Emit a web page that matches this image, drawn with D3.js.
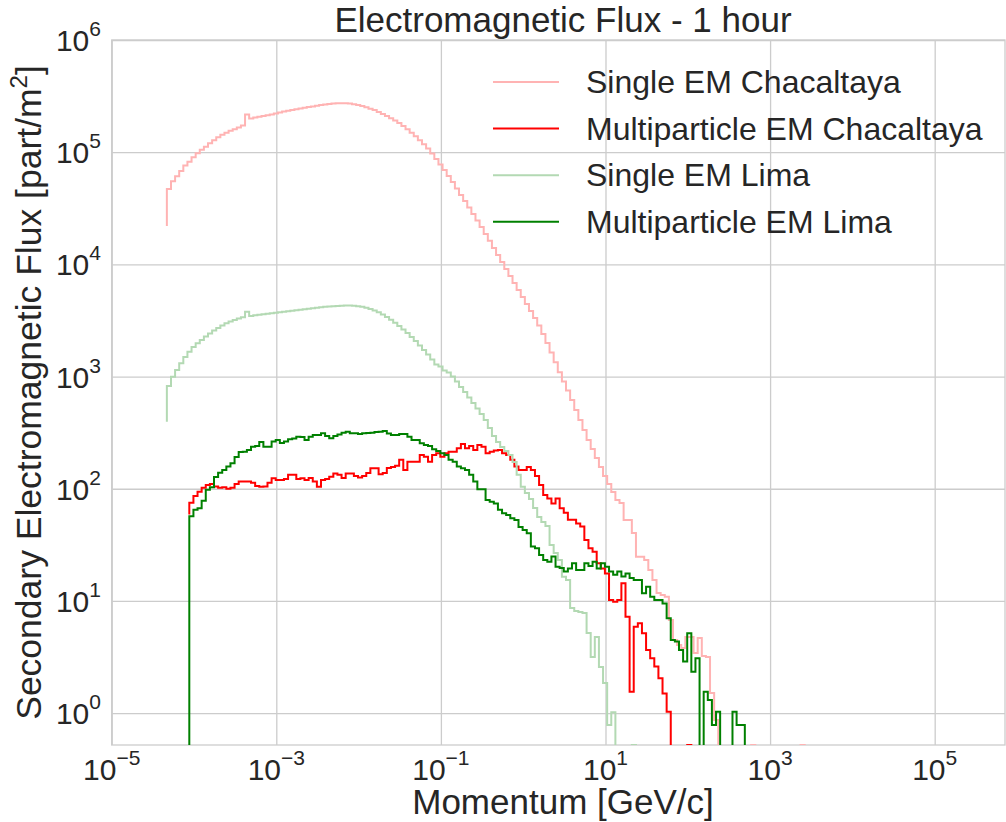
<!DOCTYPE html>
<html>
<head>
<meta charset="utf-8">
<script src="https://cdnjs.cloudflare.com/ajax/libs/d3/7.8.5/d3.min.js"></script>
<style>
    body { margin: 0; background: #fff; }
    svg { font-family: "Liberation Sans", Arial, sans-serif; }
</style>
</head>
<body>
<svg id="chart" width="1006" height="822"></svg>
<script>

// histogram bins: 20 log bins per decade, lower edge of first bin
var binsPerDecade = 20;
var singleBinLo = 4.68e-5;
var multiBinLo = 8.77e-5;

// [part/m2] per bin. first value = start of the step line
var chacSingleStart = 22000;
var chacSingle = [47000,55000,61000,68000,76000,82000,90000,98000,105000,112000,
    120000,128000,136000,143000,149000,155000,160000,166000,173000,217000,
    200000,204000,207000,210000,213000,217000,221000,226000,230000,234000,
    238000,242000,245000,249000,253000,256000,260000,263000,266000,269000,
    271000,273000,273000,273000,271000,268000,263000,258000,251000,244000,
    238000,228000,219000,210000,201000,192000,182000,171000,160000,149000,
    139000,128000,118000,108000,97400,87000,77700,69400,61400,54300,
    47500,41500,36700,32200,28100,24600,21500,18700,16200,14000,
    12100,10500,9100,7880,6830,5910,5120,4440,3840,3330,
    2850,2400,1990,1640,1340,1090,904,752,619,504,
    410,334,272,226,188,156,130,110,93.6,79.5,
    74.7,52.7,52.7,40.4,24.8,24.8,23.2,18.9,15.4,11.8,
    11.3,10.9,6.77,4.49,4.05,3.81,4.78,4.78,3.44,4.68,
    3.23,3.17,1.51,0.87,0,0,0,0,0,0,
    0,0,0.52,0,0,0,0,0,0,0,
    0,0,0,0,0.52,0];

var chacMultiStart = 59;
var chacMulti = [75,86,94,102,108,110,105,102,103,100,
    102,110,116,116,116,113,106,104,105,113,
    124,120,120,122,133,133,122,124,120,125,
    116,104,120,122,128,137,133,125,137,137,
    130,126,130,138,152,152,135,138,153,156,
    160,181,147,174,174,174,200,193,174,200,
    207,193,207,214,214,230,251,230,241,222,
    246,237,207,214,219,222,207,200,181,158,
    147,147,156,147,130,108,88,82,74,82,
    67,61,53,53,49,46,35,29.5,27.5,21.7,
    19.5,17.6,10.2,9.86,10.2,14.4,7.24,1.55,5.9,6.33,
    5.15,3.66,3.08,2.6,2.05,1.5,1.03,0,0,0,
    0,0.52,0];

var limaSingleStart = 396;
var limaSingle = [825,998,1145,1313,1495,1667,1835,1981,2120,2277,
    2422,2576,2712,2854,2985,3098,3195,3295,3377,3788,
    3468,3518,3562,3598,3636,3673,3711,3750,3788,3827,
    3866,3907,3948,3988,4030,4071,4113,4147,4181,4216,
    4242,4267,4285,4294,4294,4276,4242,4190,4113,4004,
    3882,3742,3577,3398,3215,3023,2825,2629,2447,2254,
    2077,1893,1727,1574,1420,1282,1230,1133,1088,1002,
    904,808,729,651,582,520,464,410,348,296,
    261,236,217,200,173,133,104,91.7,81.1,67.4,
    56.1,50.6,46.6,31.6,26.8,23.2,16.4,15.4,8.66,8.14,
    7.98,7.82,5.19,3.17,4.78,2.58,1.86,0.785,1.02,0,
    0,0,0,0.52,0];

var limaMultiStart = 0;
var limaMulti = [57,65,67,78,98,103,127,139,147,158,
    169,192,213,214,222,237,241,261,237,237,
    264,272,256,264,276,281,291,290,272,291,
    302,302,312,295,282,295,305,316,323,312,
    312,308,312,314,316,321,323,328,311,302,
    302,308,308,291,272,272,254,246,241,225,
    217,207,200,181,174,158,152,147,133,116,
    99,99,79.5,76.7,74,65,60.5,58.4,54.6,52.7,
    45.7,42.9,40.1,30.5,29.5,25.7,23.2,22.4,24.9,20.2,
    19.7,18.3,19.5,21.7,18.9,18.9,21.7,20.5,22.4,19.5,
    21.7,20.2,18.3,17.1,18.3,16.5,17.6,16.0,15.4,15.4,
    11.7,13.4,10.9,10.2,10.2,9.5,7.0,4.49,4.34,3.66,
    2.88,5.15,2.34,3.08,0,1.55,1.31,0.785,1.03,0,
    0,0,1.03,0.785,0.785,0];

var seriesNames = ["Single EM Chacaltaya", "Multiparticle EM Chacaltaya", "Single EM Lima", "Multiparticle EM Lima"];
var seriesColors = ["#ffb3b3", "#ff0000", "#b3d9b3", "#008000"];

var xTickExp = [-5, -3, -1, 1, 3, 5];
var yTickExp = [0, 1, 2, 3, 4, 5, 6];
var xMin = 1e-5, xMax = 7.15e5;
var yMin = 0.52, yMax = 1e6;

// layout (plot box)
var boxL = 111.7, boxR = 1005, boxT = 40, boxB = 745;
var boxW = boxR - boxL, boxH = boxB - boxT;
var labelCx = 563;
var textCol = "#262626", gridCol = "#cccccc";

var svg = d3.select("#chart");

var x = d3.scaleLog().domain([xMin, xMax]).range([boxL, boxR]);
var y = d3.scaleLog().domain([yMin, yMax]).range([boxB, boxT]);

svg.append("defs").append("clipPath").attr("id", "plotclip")
    .append("rect").attr("x", boxL).attr("y", boxT).attr("width", boxW).attr("height", boxH);

// grid
var xTicks = xTickExp.map(function(e){ return Math.pow(10, e); });
var yTicks = yTickExp.map(function(e){ return Math.pow(10, e); });

var gx = svg.append("g").attr("transform", "translate(0," + boxB + ")")
    .call(d3.axisBottom(x).tickValues(xTicks).tickSize(-boxH).tickFormat(""));
var gy = svg.append("g").attr("transform", "translate(" + boxL + ",0)")
    .call(d3.axisLeft(y).tickValues(yTicks).tickSize(-boxW).tickFormat(""));

[gx, gy].forEach(function(g){
    g.select(".domain").remove();
    g.selectAll(".tick line").attr("stroke", gridCol).attr("stroke-width", 1.3);
});

svg.append("rect")
    .attr("x", boxL).attr("y", boxT).attr("width", boxW).attr("height", boxH)
    .attr("fill", "none").attr("stroke", gridCol).attr("stroke-width", 1.3);

// tick labels with superscripts
xTickExp.forEach(function(e){
    var t = svg.append("text")
        .attr("x", x(Math.pow(10, e))).attr("y", 780)
        .attr("text-anchor", "middle").attr("fill", textCol)
        .attr("font-size", 30);
    t.append("tspan").text("10");
    t.append("tspan").attr("dy", -15).attr("font-size", 21)
        .text(String(e).replace("-", "\u2212"));
});

yTickExp.forEach(function(e){
    var t = svg.append("text")
        .attr("x", 101).attr("y", y(Math.pow(10, e)) + 11)
        .attr("text-anchor", "end").attr("fill", textCol)
        .attr("font-size", 30);
    t.append("tspan").text("10");
    t.append("tspan").attr("dy", -15).attr("font-size", 21).text(String(e));
});

// histogram steps
function histPoints(lo, start, counts){
    var pts = [[lo, start]];
    counts.forEach(function(c, i){
        pts.push([lo * Math.pow(10, i / binsPerDecade), c]);
    });
    pts.push([lo * Math.pow(10, counts.length / binsPerDecade), 0]);
    return pts;
}

var line = d3.line()
    .x(function(d){ return x(d[0]); })
    .y(function(d){ return d[1] > 0 ? y(d[1]) : boxB + 40; })
    .curve(d3.curveStepAfter);

var series = [
    histPoints(singleBinLo, chacSingleStart, chacSingle),
    histPoints(multiBinLo, chacMultiStart, chacMulti),
    histPoints(singleBinLo, limaSingleStart, limaSingle),
    histPoints(multiBinLo, limaMultiStart, limaMulti)
];

var plot = svg.append("g").attr("clip-path", "url(#plotclip)");
series.forEach(function(pts, i){
    plot.append("path")
        .attr("d", line(pts))
        .attr("fill", "none")
        .attr("stroke", seriesColors[i])
        .attr("stroke-width", 2)
        .attr("stroke-linejoin", "miter");
});

// legend
seriesNames.forEach(function(name, i){
    var ly = 82 + i * 46.6;
    svg.append("line")
        .attr("x1", 493).attr("x2", 559).attr("y1", ly).attr("y2", ly)
        .attr("stroke", seriesColors[i]).attr("stroke-width", 2);
    svg.append("text")
        .attr("x", 586).attr("y", ly + 11)
        .attr("fill", textCol).attr("font-size", 32)
        .text(name);
});

// titles
svg.append("text")
    .attr("x", labelCx).attr("y", 32)
    .attr("text-anchor", "middle").attr("fill", textCol).attr("font-size", 35)
    .text("Electromagnetic Flux - 1 hour");

svg.append("text")
    .attr("x", labelCx).attr("y", 814)
    .attr("text-anchor", "middle").attr("fill", textCol).attr("font-size", 35)
    .text("Momentum [GeV/c]");

var yl = svg.append("text")
    .attr("transform", "translate(41," + (boxT + boxB) / 2 + ") rotate(-90)")
    .attr("text-anchor", "middle").attr("fill", textCol).attr("font-size", 35.5);
yl.append("tspan").text("Secondary Electromagnetic Flux [part/m");
yl.append("tspan").attr("dy", -14).attr("font-size", 24).text("2");
yl.append("tspan").attr("dy", 14).text("]");

</script>
</body>
</html>
